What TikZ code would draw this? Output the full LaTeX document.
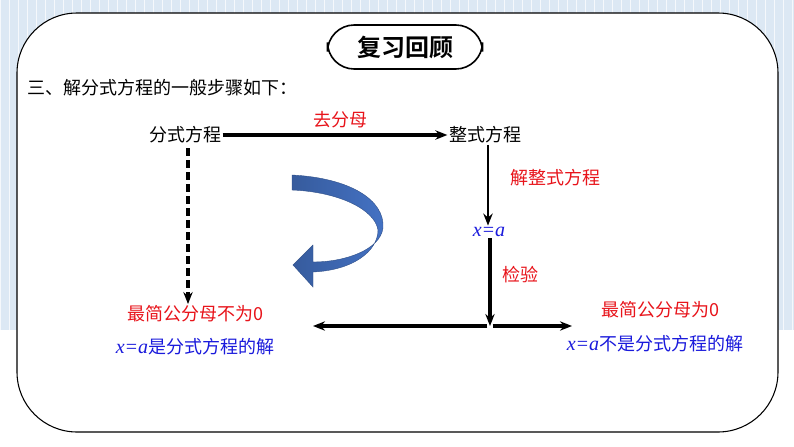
\documentclass[tikz,border=0pt]{standalone}
\usepackage{fontspec}
\setmainfont{Liberation Serif}
\newfontfamily\cjk{Noto Sans CJK SC}
\newfontfamily\cjkb{Noto Sans CJK SC}[BoldFont={* Bold}]
\newfontfamily\ser{Liberation Serif}
\usetikzlibrary{arrows.meta}
\definecolor{bgblue}{HTML}{DCE8F4}
\definecolor{myred}{HTML}{E8141B}
\definecolor{myblue}{HTML}{1A1ADC}
\definecolor{arrblue}{HTML}{4472C4}
\tikzset{
  lbl/.style={font=\cjk\fontsize{13.5}{16}\selectfont, inner sep=1pt},
  redl/.style={lbl, text=myred},
  bluel/.style={lbl, text=myblue},
  conn/.style={line width=3pt, -{Stealth[length=9pt,width=7pt]}},
}
\begin{document}
\begin{tikzpicture}[x=0.75pt,y=-0.75pt]
\useasboundingbox (0,0) rectangle (794,447);
\fill[bgblue] (0,0) rectangle (794,447);
\draw[step=9, white!70!bgblue, line width=0.3pt] (0,0) grid (794,447);
\fill[white] (0,330) rectangle (794,447);
\draw[fill=white, line width=0.8pt, rounded corners=45] (17,13) rectangle (778,432);
\node[draw, line width=1.2pt, rounded corners=20, minimum width=155*0.75pt, minimum height=44*0.75pt, font=\cjkb\bfseries\fontsize{18}{20}\selectfont] (title) at (405,47) {复习回顾};
\node[lbl, anchor=west] (head) at (26,88) {三、解分式方程的一般步骤如下：};
\node[lbl] (fs) at (185,135) {分式方程};
\node[lbl] (zs) at (485,135) {整式方程};
\node[redl] (qfm) at (340,120) {去分母};
\node[lbl, text=myblue] (xa) at (489,232) {\ser\itshape\fontsize{15}{17}\selectfont x=a};
\node[redl] (jz) at (555,178) {解整式方程};
\node[redl] (jy) at (520,275) {检验};
\coordinate (mid) at (490,326);
\node[redl] (n1) at (195,314) {最简公分母不为0};
\node[bluel] (s1) at (195,347) {{\ser\itshape\fontsize{15}{17}\selectfont x=a}是分式方程的解};
\node[redl] (n2) at (660,310) {最简公分母为0};
\node[bluel] (s2) at (655,344) {{\ser\itshape\fontsize{15}{17}\selectfont x=a}不是分式方程的解};
\coordinate (L) at (313,326);
\coordinate (R) at (572,326);
\draw[conn] (fs.east) -- (zs.west);
\draw[conn, line width=2pt] (zs.south -| 488,0) -- (xa.north -| 488,0);
\draw[conn] (xa.south -| 490,0) -- (mid);
\draw[conn, dash pattern=on 6pt off 3pt] (188,148) -- (n1.north -| 188,0);
\draw[conn] ([xshift=-2pt]mid) -- (L);
\draw[conn] ([xshift=2pt]mid) -- (R);
\shade[left color=arrblue!80!black, right color=arrblue, draw=arrblue!70!black, line width=0.3pt]
 (292,175) .. controls (350,178) and (385,200) .. (383,228)
 .. controls (380,250) and (345,262) .. (313,262) -- (313,245) -- (293,265) -- (313,287) -- (313,272)
 .. controls (355,270) and (378,250) .. (378,230)
 .. controls (375,210) and (340,192) .. (292,190) -- cycle;
\end{tikzpicture}
\end{document}
